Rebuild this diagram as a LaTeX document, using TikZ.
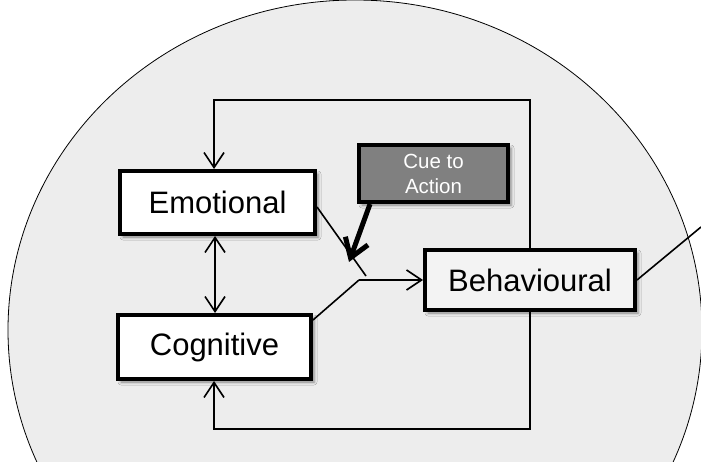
\documentclass[tikz,border=0pt]{standalone}
\usepackage{fontspec}
\setmainfont{Liberation Sans}
\usetikzlibrary{arrows.meta,shadows.blur,calc}
\definecolor{discfill}{RGB}{237,237,237}
\definecolor{cuefill}{RGB}{128,128,128}
\definecolor{behfill}{RGB}{243,243,243}
\begin{document}
\begin{tikzpicture}[x=1pt,y=-1pt,
  box/.style={draw=black, line width=4pt, fill=white, inner sep=0pt,
    font=\fontsize{31}{36}\selectfont,
    blur shadow={shadow xshift=3pt, shadow yshift=-3pt,
      shadow blur radius=3pt, shadow opacity=45}},
  link/.style={draw=black, line width=1.6pt},
  barb/.style={-{Straight Barb[length=15pt,width=20pt]}},
  dbl/.style={{Straight Barb[length=15pt,width=20pt]}-{Straight Barb[length=15pt,width=20pt]}}
]
\useasboundingbox (0,0) rectangle (701,462);
\clip (0,0) rectangle (701,462);

% background disc
\path[fill=discfill, draw=black, line width=0.8pt]
  (355,330) ellipse [x radius=347pt, y radius=330pt];

% boxes
\node[box, minimum width=195pt, minimum height=63pt] (emo) at (217.5,202.5) {Emotional};
\node[box, minimum width=193pt, minimum height=64pt] (cog) at (214.5,347) {Cognitive};
\node[box, fill=behfill, minimum width=210pt, minimum height=60pt] (beh) at (530,280) {Behavioural};
\node[box, fill=cuefill, text=white, minimum width=149pt, minimum height=57pt,
  align=center, font=\fontsize{20.5}{25}\selectfont] (cue) at (433.5,173.5) {Cue to\\Action};

% routing points
\coordinate (tl) at (214,100);
\coordinate (bl) at (214,429);
\coordinate (mid) at (215,0);
\coordinate (J) at (359,280);
\coordinate (emoEnd) at (366,276);
\coordinate (cueTip) at (349,262);
\coordinate (exit) at (701,227);

% feedback loops
\draw[link, barb] (beh.north) |- (tl) -- (tl |- emo.north);
\draw[link, barb] (beh.south) |- (bl) -- (bl |- cog.south);

% emotional <-> cognitive
\draw[link, dbl] (emo.south -| mid) -- (cog.north -| mid);

% switch into behaviour
\draw[link] ($(emo.east)+(0,4.5)$) -- (emoEnd);
\draw[link] ($(cog.north east)+(0,7)$) -- (J);
\draw[link, barb] (J) -- (beh.west);

% cue to action trigger
\draw[line width=5pt, -{Straight Barb[length=18pt,width=24pt]}]
  ($(cue.south west)+(13,0)$) -- (cueTip);

% outgoing line
\draw[link] (beh.east) -- (exit);
\end{tikzpicture}
\end{document}
